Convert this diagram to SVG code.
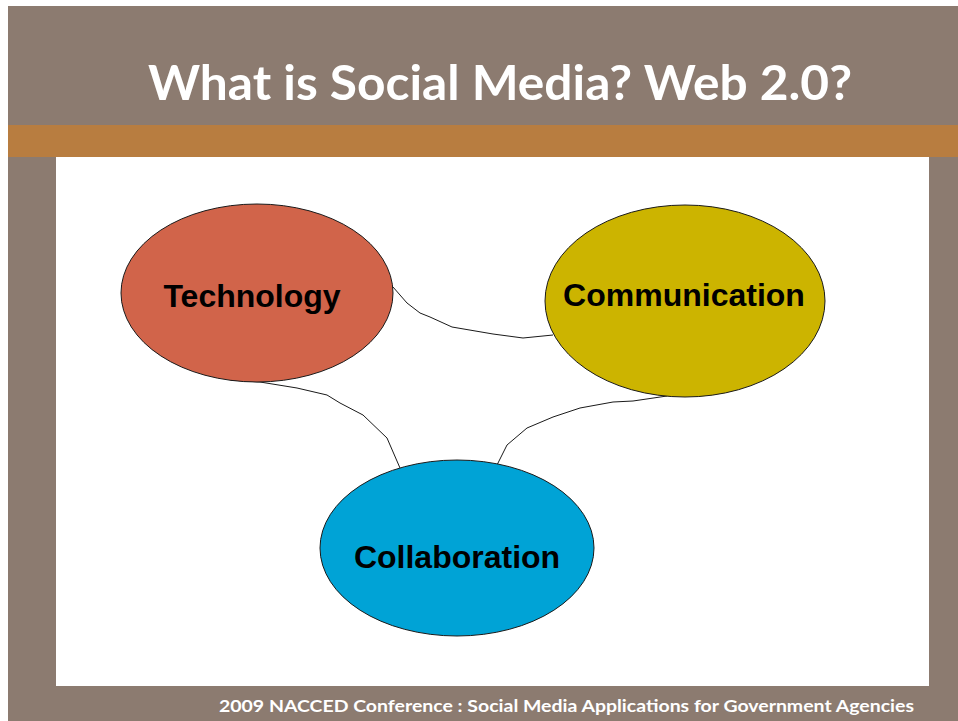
<svg xmlns="http://www.w3.org/2000/svg" width="958" height="721" viewBox="0 0 958 721">
<style>
.node{stroke:#1a1a1a;stroke-width:1}
.lbl{font-family:"Liberation Sans",Arial,sans-serif;font-weight:bold;font-size:32px;fill:#000;text-anchor:middle}
.conn{fill:none;stroke:#1a1a1a;stroke-width:1}
</style>
<rect x="0" y="0" width="958" height="721" fill="#fff"/>
<rect x="8" y="6" width="950" height="715" fill="#8C7B70"/>
<rect x="8" y="125" width="950" height="32" fill="#B87D40"/>
<rect x="56" y="157" width="873" height="529" fill="#fff"/>
<text x="500" y="100" font-family="Lato,'Open Sans',sans-serif" font-weight="bold" font-size="47" fill="#fff" text-anchor="middle" textLength="704" lengthAdjust="spacingAndGlyphs">What is Social Media? Web 2.0?</text>
<g id="connectors">
<path class="conn" d="M393,287 L407,303 L420,313 L430,317 L452,327 L493,334 L523,338 L553,335"/>
<path class="conn" d="M230,380 L260,382 L297,388 L327,395 L340,403 L363,415 L387,438 L400,468"/>
<path class="conn" d="M497,465 L507,445 L527,428 L553,417 L580,408 L613,402 L633,401 L667,396"/>
</g>
<g id="technology">
<ellipse class="node" cx="257" cy="293" rx="136" ry="89" fill="#D1644A"/>
<text class="lbl" x="252" y="307">Technology</text>
</g>
<g id="communication">
<ellipse class="node" cx="685" cy="301" rx="140" ry="96" fill="#CCB400"/>
<text class="lbl" x="684" y="306">Communication</text>
</g>
<g id="collaboration">
<ellipse class="node" cx="457" cy="548" rx="137" ry="88" fill="#00A3D6"/>
<text class="lbl" x="457" y="568">Collaboration</text>
</g>
<text x="219" y="712" font-family="Lato,'Open Sans',sans-serif" font-weight="bold" font-size="17" fill="#fff" textLength="695" lengthAdjust="spacingAndGlyphs">2009 NACCED Conference : Social Media Applications for Government Agencies</text>
</svg>
